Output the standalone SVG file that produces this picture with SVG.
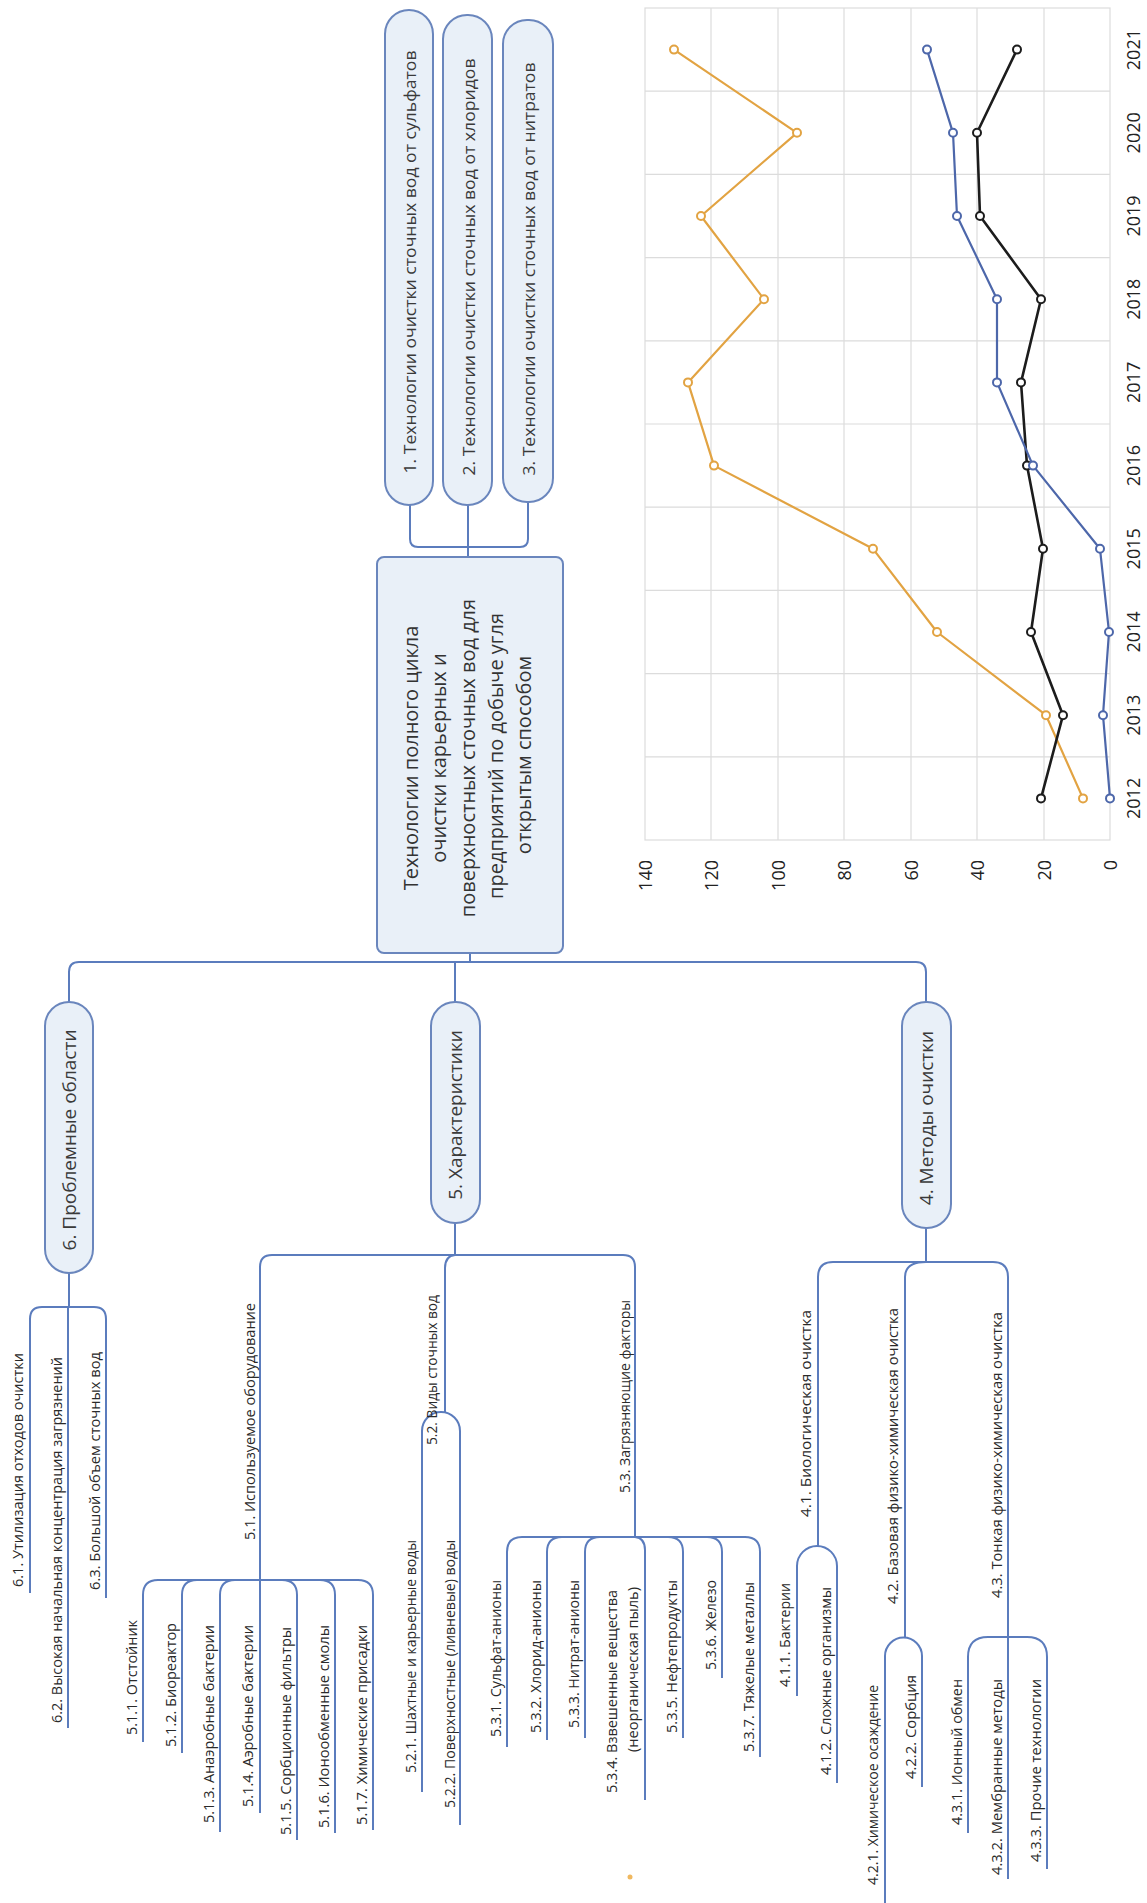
<svg xmlns="http://www.w3.org/2000/svg" width="1147" height="1903" viewBox="0 0 1147 1903">
<defs>
<style>
.bg{fill:#ffffff}
.grid{stroke:#dcdcdc;stroke-width:1.2;fill:none}
.ax{font-family:"Open Sans","Liberation Sans",sans-serif;font-size:18px;fill:#222;dominant-baseline:central}
.ser{fill:none;stroke-width:2.2;stroke-linejoin:round}
.mk{fill:#fff;stroke-width:2}
.or{stroke:#e2a342}
.bl{stroke:#4d67aa}
.bk{stroke:#1c1c1c}
.pill{fill:#e9f0f8;stroke:#6a86bd;stroke-width:2}
.ntxt{font-family:"Open Sans","Liberation Sans",sans-serif;font-size:19px;fill:#3a3a3a;text-anchor:middle;dominant-baseline:central}
.btxt{font-family:"Open Sans","Liberation Sans",sans-serif;font-size:17px;fill:#3a3a3a;text-anchor:middle;dominant-baseline:central}
.ctxt{font-family:"Open Sans","Liberation Sans",sans-serif;font-size:20px;fill:#333;text-anchor:middle;dominant-baseline:central}
.leaf{font-family:"Open Sans","Liberation Sans",sans-serif;font-size:14px;fill:#2a2a2a}
.con{fill:none;stroke:#5b7cbd;stroke-width:2}
</style>
</defs>
<rect class="bg" x="0" y="0" width="1147" height="1903"/>

<g id="chart">
<rect class="grid" x="645" y="8" width="465" height="832"/>
<path class="grid" d="M711,8V840M778,8V840M844,8V840M911,8V840M977,8V840M1044,8V840M645,91.2H1110M645,174.4H1110M645,257.6H1110M645,340.8H1110M645,424H1110M645,507.2H1110M645,590.4H1110M645,673.6H1110M645,756.8H1110"/>
<g id="series-orange">
<polyline class="ser or" points="674,49.6 797,132.8 701,216 764,299.2 688,382.4 714,465.6 873,548.8 937,632 1046,715.2 1083,798.4"/>
<g class="mk or">
<circle cx="674" cy="49.6" r="4"/><circle cx="797" cy="132.8" r="4"/><circle cx="701" cy="216" r="4"/><circle cx="764" cy="299.2" r="4"/><circle cx="688" cy="382.4" r="4"/><circle cx="714" cy="465.6" r="4"/><circle cx="873" cy="548.8" r="4"/><circle cx="937" cy="632" r="4"/><circle cx="1046" cy="715.2" r="4"/><circle cx="1083" cy="798.4" r="4"/>
</g>
</g>
<g id="series-black">
<polyline class="ser bk" points="1017,49.6 977,132.8 980,216 1041,299.2 1021,382.4 1027,465.6 1043,548.8 1031,632 1063,715.2 1041,798.4" style="stroke-width:2.6"/>
<g class="mk bk">
<circle cx="1017" cy="49.6" r="4"/><circle cx="977" cy="132.8" r="4"/><circle cx="980" cy="216" r="4"/><circle cx="1041" cy="299.2" r="4"/><circle cx="1021" cy="382.4" r="4"/><circle cx="1027" cy="465.6" r="4"/><circle cx="1043" cy="548.8" r="4"/><circle cx="1031" cy="632" r="4"/><circle cx="1063" cy="715.2" r="4"/><circle cx="1041" cy="798.4" r="4"/>
</g>
</g>
<g id="series-blue">
<polyline class="ser bl" points="927,49.6 953,132.8 957,216 997,299.2 997,382.4 1033,465.6 1100,548.8 1109,632 1103,715.2 1110,798.4"/>
<g class="mk bl">
<circle cx="927" cy="49.6" r="4"/><circle cx="953" cy="132.8" r="4"/><circle cx="957" cy="216" r="4"/><circle cx="997" cy="299.2" r="4"/><circle cx="997" cy="382.4" r="4"/><circle cx="1033" cy="465.6" r="4"/><circle cx="1100" cy="548.8" r="4"/><circle cx="1109" cy="632" r="4"/><circle cx="1103" cy="715.2" r="4"/><circle cx="1110" cy="798.4" r="4"/>
</g>
</g>
<g id="year-labels" class="ax" text-anchor="middle">
<text x="1133" y="49.6" transform="rotate(-90 1133 49.6)">2021</text>
<text x="1133" y="132.8" transform="rotate(-90 1133 132.8)">2020</text>
<text x="1133" y="216" transform="rotate(-90 1133 216)">2019</text>
<text x="1133" y="299.2" transform="rotate(-90 1133 299.2)">2018</text>
<text x="1133" y="382.4" transform="rotate(-90 1133 382.4)">2017</text>
<text x="1133" y="465.6" transform="rotate(-90 1133 465.6)">2016</text>
<text x="1133" y="548.8" transform="rotate(-90 1133 548.8)">2015</text>
<text x="1133" y="632" transform="rotate(-90 1133 632)">2014</text>
<text x="1133" y="715.2" transform="rotate(-90 1133 715.2)">2013</text>
<text x="1133" y="798.4" transform="rotate(-90 1133 798.4)">2012</text>
</g>
<g id="value-labels" class="ax" text-anchor="end">
<text x="645" y="860" transform="rotate(-90 645 860)">140</text>
<text x="711" y="860" transform="rotate(-90 711 860)">120</text>
<text x="778" y="860" transform="rotate(-90 778 860)">100</text>
<text x="844" y="860" transform="rotate(-90 844 860)">80</text>
<text x="911" y="860" transform="rotate(-90 911 860)">60</text>
<text x="977" y="860" transform="rotate(-90 977 860)">40</text>
<text x="1044" y="860" transform="rotate(-90 1044 860)">20</text>
<text x="1110" y="860" transform="rotate(-90 1110 860)">0</text>
</g>
</g>

<g id="connectors">
<path class="con" d="M410,505V539Q410,547 418,547H520Q528,547 528,539V502"/>
<path class="con" d="M468,505V557"/>
<path class="con" d="M470,953V962"/>
<path class="con" d="M69,1002V972Q69,962 79,962H916Q926,962 926,972V1002"/>
<path class="con" d="M455,962V1002"/>
<path class="con" d="M69,1273V1307"/>
<path class="con" d="M30,1593V1319Q30,1307 42,1307H94Q106,1307 106,1319V1598"/>
<path class="con" d="M68,1307V1728"/>
<path class="con" d="M455,1223V1255"/>
<path class="con" d="M260,1813V1267Q260,1255 272,1255H623Q635,1255 635,1267V1537"/>
<path class="con" d="M455,1255Q445,1256 445,1268V1412"/>
<path class="con" d="M422,1792V1431A19,19 0 0 1 460,1431V1825"/>
<path class="con" d="M143,1742V1595Q143,1580 158,1580H358Q373,1580 373,1595V1830"/>
<path class="con" d="M182,1753V1595Q182,1580 197,1580"/>
<path class="con" d="M220,1832V1595Q220,1580 235,1580"/>
<path class="con" d="M297,1840V1595Q297,1580 282,1580"/>
<path class="con" d="M335,1833V1595Q335,1580 320,1580"/>
<path class="con" d="M507,1747V1552Q507,1537 522,1537H745Q760,1537 760,1552V1757"/>
<path class="con" d="M547,1740V1552Q547,1537 562,1537"/>
<path class="con" d="M585,1738V1552Q585,1537 600,1537"/>
<path class="con" d="M635,1537Q645,1538 645,1550V1800"/>
<path class="con" d="M683,1738V1552Q683,1537 668,1537"/>
<path class="con" d="M722,1678V1552Q722,1537 707,1537"/>
<path class="con" d="M926,1228V1262"/>
<path class="con" d="M818,1546V1277Q818,1262 833,1262H993Q1008,1262 1008,1277V1879"/>
<path class="con" d="M926,1262Q905,1262 905,1277V1637"/>
<path class="con" d="M797,1696V1566A20,20 0 0 1 837,1566V1783"/>
<path class="con" d="M885,1903V1656A18.5,18.5 0 0 1 922,1656V1787"/>
<path class="con" d="M968,1833V1657Q968,1637 988,1637H1027Q1047,1637 1047,1657V1869"/>
</g>

<g id="n1"><rect class="pill" x="385" y="10" width="48" height="495" rx="24"/><text class="btxt" x="409" y="262" transform="rotate(-90 409 262)" textLength="423" lengthAdjust="spacingAndGlyphs">1. Технологии очистки сточных вод от сульфатов</text></g>
<g id="n2"><rect class="pill" x="443" y="15" width="49" height="490" rx="24"/><text class="btxt" x="468" y="267" transform="rotate(-90 468 267)" textLength="417" lengthAdjust="spacingAndGlyphs">2. Технологии очистки сточных вод от хлоридов</text></g>
<g id="n3"><rect class="pill" x="503" y="20" width="50" height="482" rx="24"/><text class="btxt" x="528" y="269" transform="rotate(-90 528 269)" textLength="413" lengthAdjust="spacingAndGlyphs">3. Технологии очистки сточных вод от нитратов</text></g>

<g id="root">
<rect class="pill" x="377" y="557" width="186" height="396" rx="7"/>
<text class="ctxt" x="410" y="758" transform="rotate(-90 410 758)">Технологии полного цикла</text>
<text class="ctxt" x="438" y="758" transform="rotate(-90 438 758)">очистки карьерных и</text>
<text class="ctxt" x="467" y="758" transform="rotate(-90 467 758)">поверхностных сточных вод для</text>
<text class="ctxt" x="495" y="756" transform="rotate(-90 495 756)">предприятий по добыче угля</text>
<text class="ctxt" x="523" y="755" transform="rotate(-90 523 755)">открытым способом</text>
</g>

<g id="n6"><rect class="pill" x="45" y="1002" width="48" height="271" rx="24"/><text class="ntxt" x="69" y="1140" transform="rotate(-90 69 1140)">6. Проблемные области</text></g>
<g id="n5"><rect class="pill" x="431" y="1002" width="49" height="221" rx="24"/><text class="ntxt" x="455" y="1115" transform="rotate(-90 455 1115)">5. Характеристики</text></g>
<g id="n4"><rect class="pill" x="902" y="1002" width="49" height="226" rx="24"/><text class="ntxt" x="926" y="1118" transform="rotate(-90 926 1118)">4. Методы очистки</text></g>

<g id="n6-leaves" class="leaf">
<text x="23" y="1587" transform="rotate(-90 23 1587)" textLength="234" lengthAdjust="spacingAndGlyphs">6.1. Утилизация отходов очистки</text>
<text x="62" y="1723" transform="rotate(-90 62 1723)" textLength="366" lengthAdjust="spacingAndGlyphs">6.2. Высокая начальная концентрация загрязнений</text>
<text x="100" y="1590" transform="rotate(-90 100 1590)" textLength="238" lengthAdjust="spacingAndGlyphs">6.3. Большой объем сточных вод</text>
</g>
<g id="n5-branches" class="leaf">
<text x="255" y="1540" transform="rotate(-90 255 1540)" textLength="237" lengthAdjust="spacingAndGlyphs">5.1. Используемое оборудование</text>
<text x="437" y="1445" transform="rotate(-90 437 1445)" textLength="150" lengthAdjust="spacingAndGlyphs">5.2. Виды сточных вод</text>
<text x="630" y="1493" transform="rotate(-90 630 1493)" textLength="193" lengthAdjust="spacingAndGlyphs">5.3. Загрязняющие факторы</text>
</g>
<g id="n51-leaves" class="leaf">
<text x="137" y="1735" transform="rotate(-90 137 1735)" textLength="115" lengthAdjust="spacingAndGlyphs">5.1.1. Отстойник</text>
<text x="176" y="1747" transform="rotate(-90 176 1747)" textLength="124" lengthAdjust="spacingAndGlyphs">5.1.2. Биореактор</text>
<text x="214" y="1823" transform="rotate(-90 214 1823)" textLength="198" lengthAdjust="spacingAndGlyphs">5.1.3. Анаэробные бактерии</text>
<text x="253" y="1807" transform="rotate(-90 253 1807)" textLength="182" lengthAdjust="spacingAndGlyphs">5.1.4. Аэробные бактерии</text>
<text x="291" y="1835" transform="rotate(-90 291 1835)" textLength="208" lengthAdjust="spacingAndGlyphs">5.1.5. Сорбционные фильтры</text>
<text x="329" y="1828" transform="rotate(-90 329 1828)" textLength="203" lengthAdjust="spacingAndGlyphs">5.1.6. Ионообменные смолы</text>
<text x="367" y="1825" transform="rotate(-90 367 1825)" textLength="200" lengthAdjust="spacingAndGlyphs">5.1.7. Химические присадки</text>
</g>
<g id="n52-leaves" class="leaf">
<text x="416" y="1773" transform="rotate(-90 416 1773)" textLength="233" lengthAdjust="spacingAndGlyphs">5.2.1. Шахтные и карьерные воды</text>
<text x="455" y="1808" transform="rotate(-90 455 1808)" textLength="268" lengthAdjust="spacingAndGlyphs">5.2.2. Поверхностные (ливневые) воды</text>
</g>
<g id="n53-leaves" class="leaf">
<text x="501" y="1737" transform="rotate(-90 501 1737)" textLength="157" lengthAdjust="spacingAndGlyphs">5.3.1. Сульфат-анионы</text>
<text x="541" y="1733" transform="rotate(-90 541 1733)" textLength="153" lengthAdjust="spacingAndGlyphs">5.3.2. Хлорид-анионы</text>
<text x="579" y="1728" transform="rotate(-90 579 1728)" textLength="148" lengthAdjust="spacingAndGlyphs">5.3.3. Нитрат-анионы</text>
<text x="617" y="1793" transform="rotate(-90 617 1793)" textLength="203" lengthAdjust="spacingAndGlyphs">5.3.4. Взвешенные вещества</text>
<text x="638" y="1752" transform="rotate(-90 638 1752)" textLength="165" lengthAdjust="spacingAndGlyphs">(неорганическая пыль)</text>
<text x="677" y="1733" transform="rotate(-90 677 1733)" textLength="153" lengthAdjust="spacingAndGlyphs">5.3.5. Нефтепродукты</text>
<text x="716" y="1670" transform="rotate(-90 716 1670)" textLength="90" lengthAdjust="spacingAndGlyphs">5.3.6. Железо</text>
<text x="754" y="1752" transform="rotate(-90 754 1752)" textLength="170" lengthAdjust="spacingAndGlyphs">5.3.7. Тяжелые металлы</text>
</g>
<g id="n4-branches" class="leaf">
<text x="811" y="1517" transform="rotate(-90 811 1517)" textLength="207" lengthAdjust="spacingAndGlyphs">4.1. Биологическая очистка</text>
<text x="898" y="1604" transform="rotate(-90 898 1604)" textLength="296" lengthAdjust="spacingAndGlyphs">4.2. Базовая физико-химическая очистка</text>
<text x="1002" y="1598" transform="rotate(-90 1002 1598)" textLength="286" lengthAdjust="spacingAndGlyphs">4.3. Тонкая физико-химическая очистка</text>
</g>
<g id="n4-leaves" class="leaf">
<text x="790" y="1687" transform="rotate(-90 790 1687)" textLength="104" lengthAdjust="spacingAndGlyphs">4.1.1. Бактерии</text>
<text x="831" y="1775" transform="rotate(-90 831 1775)" textLength="188" lengthAdjust="spacingAndGlyphs">4.1.2. Сложные организмы</text>
<text x="878" y="1885" transform="rotate(-90 878 1885)" textLength="200" lengthAdjust="spacingAndGlyphs">4.2.1. Химическое осаждение</text>
<text x="916" y="1779" transform="rotate(-90 916 1779)" textLength="104" lengthAdjust="spacingAndGlyphs">4.2.2. Сорбция</text>
<text x="962" y="1825" transform="rotate(-90 962 1825)" textLength="146" lengthAdjust="spacingAndGlyphs">4.3.1. Ионный обмен</text>
<text x="1002" y="1875" transform="rotate(-90 1002 1875)" textLength="196" lengthAdjust="spacingAndGlyphs">4.3.2. Мембранные методы</text>
<text x="1041" y="1862" transform="rotate(-90 1041 1862)" textLength="183" lengthAdjust="spacingAndGlyphs">4.3.3. Прочие технологии</text>
</g>
<circle cx="630" cy="1877" r="2.5" fill="#f0b860"/>
</svg>
